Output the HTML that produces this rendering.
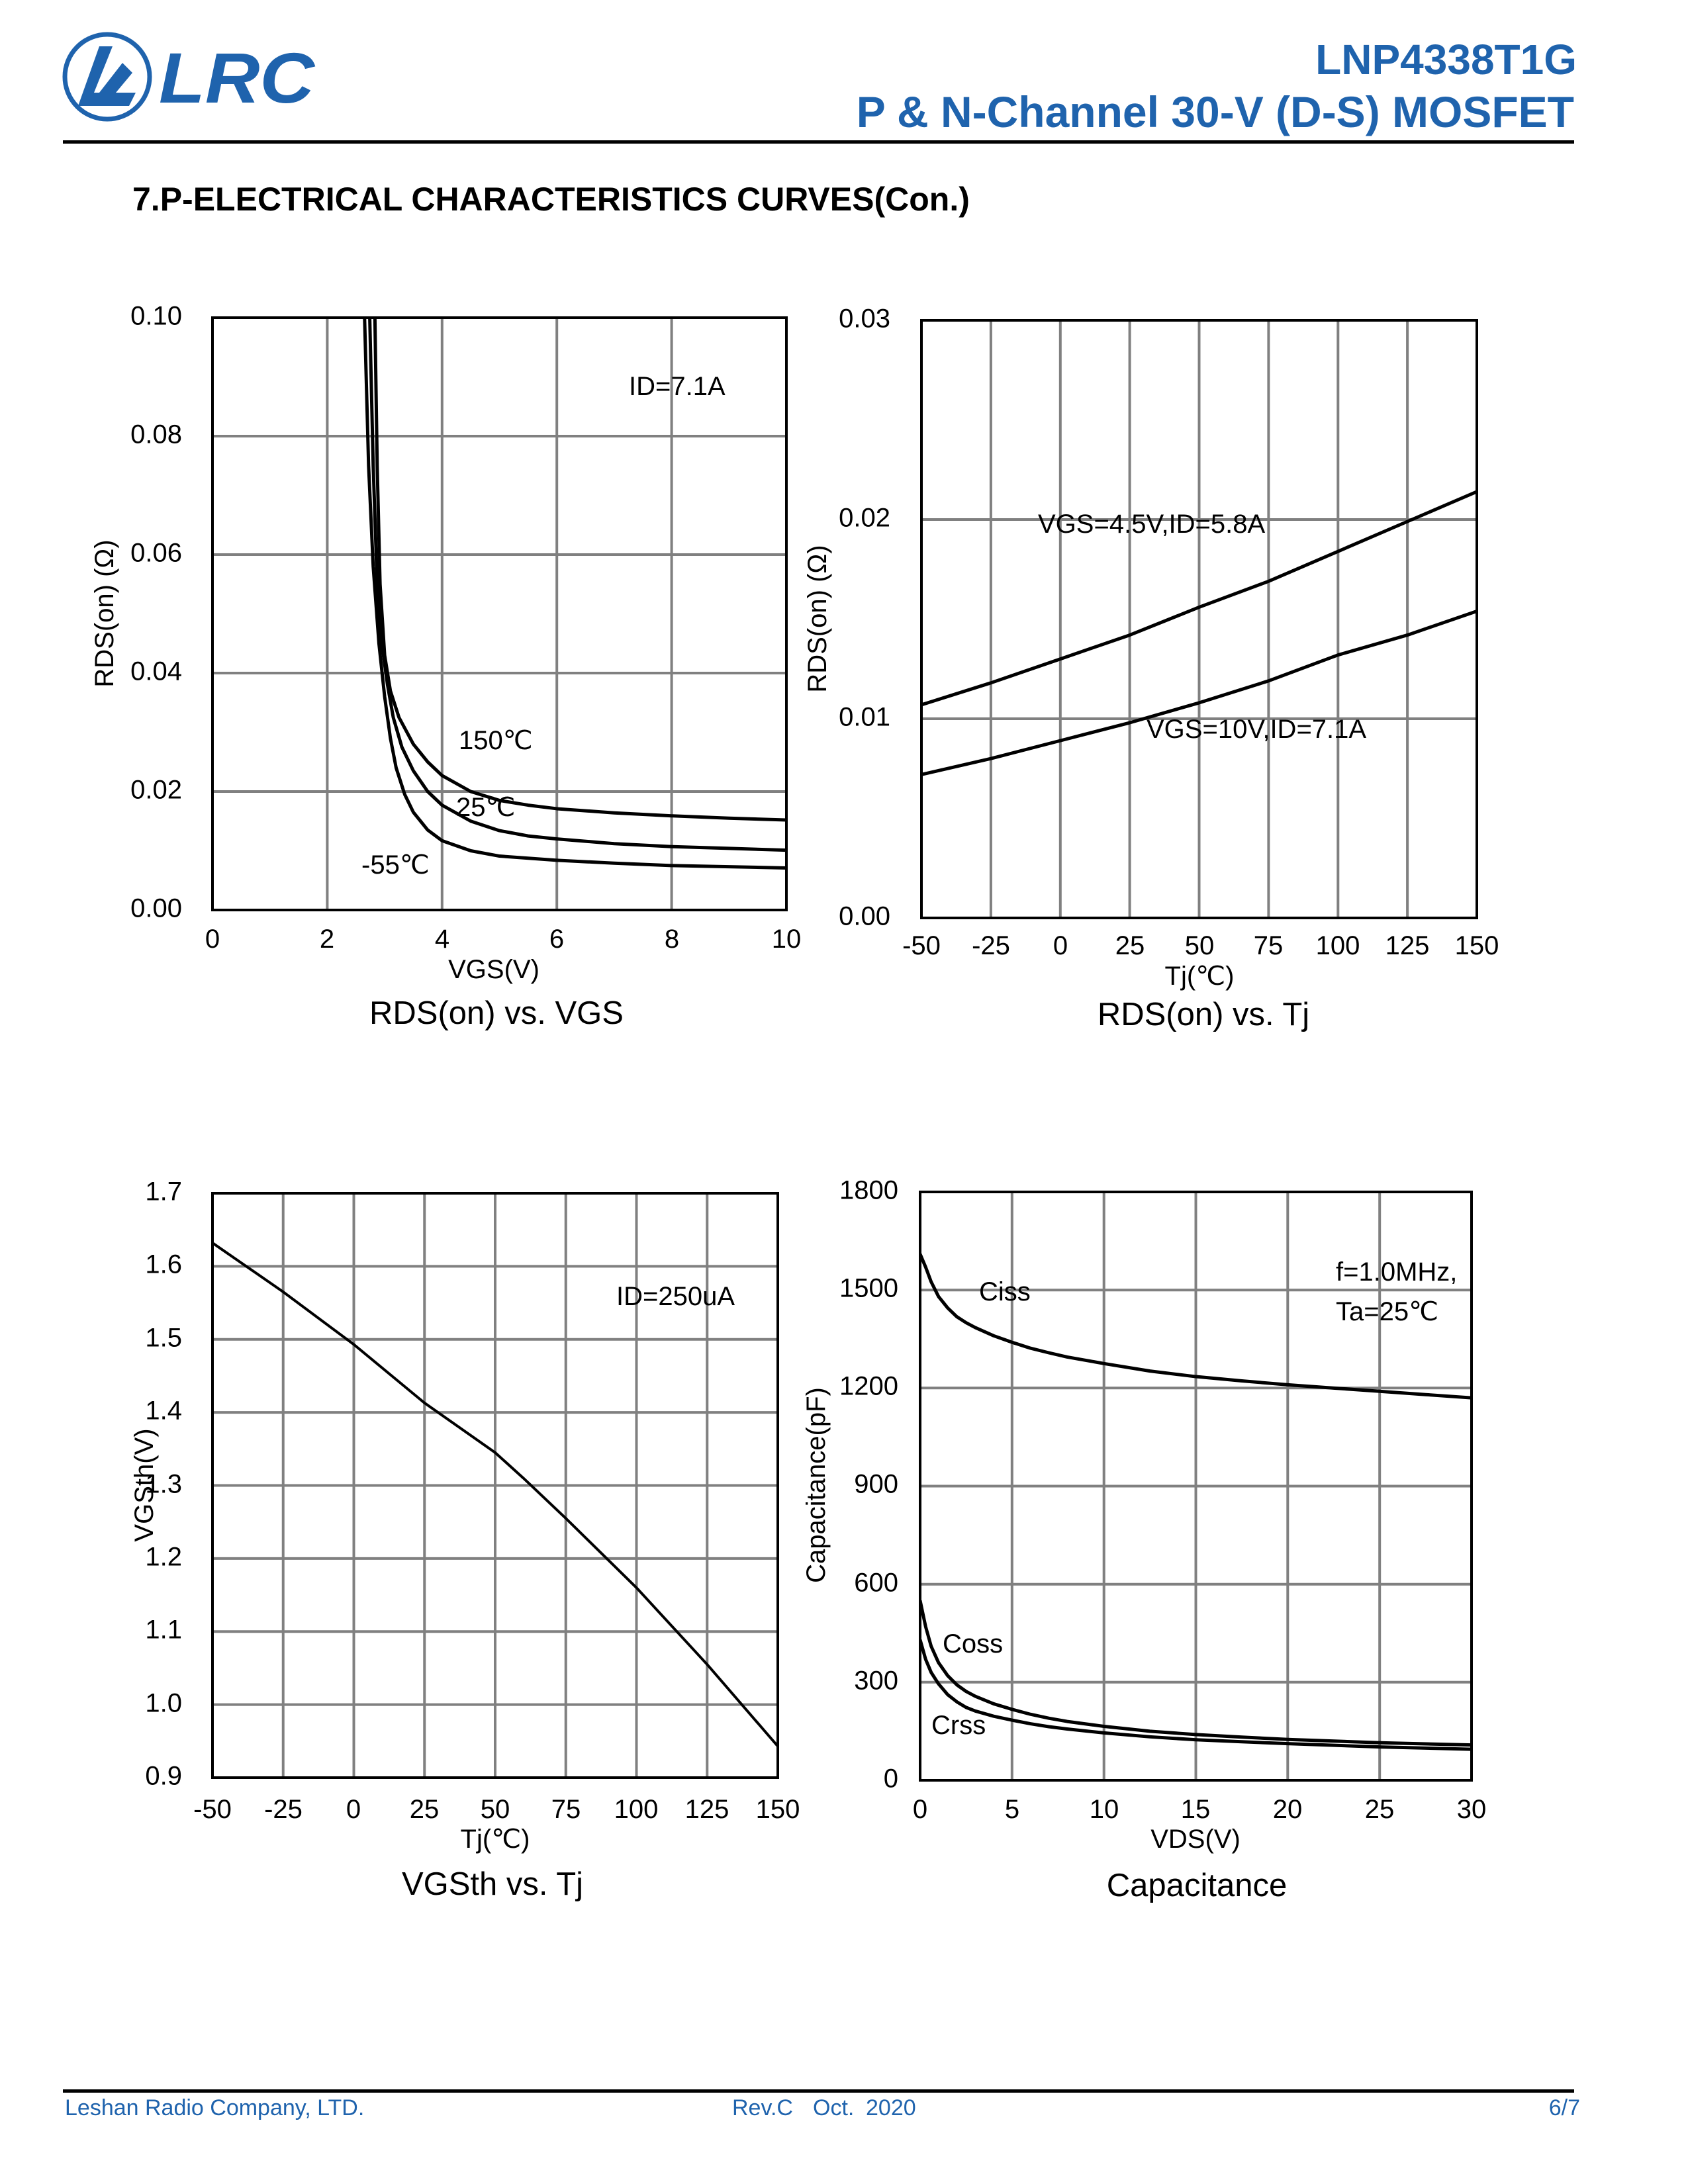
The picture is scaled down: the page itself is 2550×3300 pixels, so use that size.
<!DOCTYPE html>
<html><head><meta charset="utf-8"><style>
html,body{margin:0;padding:0;background:#fff}
svg{display:block}
text{font-family:"Liberation Sans",Arial,sans-serif}
</style></head><body>
<svg width="2550" height="3300" viewBox="0 0 2550 3300" xmlns="http://www.w3.org/2000/svg">
<rect width="2550" height="3300" fill="#fff"/>
<!-- header -->
<circle cx="162" cy="116" r="64" fill="none" stroke="#1f63ad" stroke-width="7"/>
<path d="M118 160 L150 70 L170 70 L142 140 L205 140 L195 160 Z" fill="#1f63ad"/>
<path d="M150 140 L185 95 L200 110 L175 140 Z" fill="#1f63ad"/>
<text x="240" y="155" font-size="108" font-weight="bold" font-style="italic" fill="#1f63ad" textLength="235" lengthAdjust="spacingAndGlyphs">LRC</text>
<text x="2382" y="112" font-size="64" font-weight="bold" fill="#1f63ad" text-anchor="end">LNP4338T1G</text>
<text x="2378" y="192" font-size="66" font-weight="bold" fill="#1f63ad" text-anchor="end">P &amp; N-Channel 30-V (D-S) MOSFET</text>
<rect x="95" y="212" width="2283" height="5" fill="#000"/>
<text x="200" y="318" font-size="50" font-weight="bold" fill="#000">7.P-ELECTRICAL CHARACTERISTICS CURVES(Con.)</text>

<g stroke="#808080" stroke-width="4">
<path d="M494.4 480V1375M667.8 480V1375M841.2 480V1375M1014.6 480V1375M321 659H1188M321 838H1188M321 1017H1188M321 1196H1188"/>
<path d="M1496.9 484V1387M1601.8 484V1387M1706.6 484V1387M1811.5 484V1387M1916.4 484V1387M2021.3 484V1387M2126.1 484V1387M1392 785H2231M1392 1086H2231"/>
<path d="M427.75 1803V2686M534.5 1803V2686M641.25 1803V2686M748 1803V2686M854.75 1803V2686M961.5 1803V2686M1068.25 1803V2686M321 1913.4H1175M321 2023.8H1175M321 2134.1H1175M321 2244.5H1175M321 2354.9H1175M321 2465.3H1175M321 2575.6H1175"/>
<path d="M1528.8 1801V2690M1667.7 1801V2690M1806.5 1801V2690M1945.3 1801V2690M2084.2 1801V2690M1390 1949.2H2223M1390 2097.3H2223M1390 2245.5H2223M1390 2393.7H2223M1390 2541.8H2223"/>
</g>
<g fill="none" stroke="#000" stroke-width="4">
<rect x="321" y="480" width="867" height="895"/>
<rect x="1392" y="484" width="839" height="903"/>
<rect x="321" y="1803" width="854" height="883"/>
<rect x="1390" y="1801" width="833" height="889"/>
</g>

<svg x="321" y="480" width="867" height="895" viewBox="0 0 10 100" preserveAspectRatio="none">
<g fill="none" stroke="#000" stroke-width="5" stroke-linejoin="round">
<polyline vector-effect="non-scaling-stroke" points="2.65,0 2.72,25 2.8,42 2.9,55 3.0,64 3.1,71 3.2,76 3.35,80.5 3.5,83.5 3.75,86.5 4,88.3 4.5,90 5,90.9 6,91.6 7,92.1 8,92.5 9,92.7 10,92.9"/>
<polyline vector-effect="non-scaling-stroke" points="2.74,0 2.8,25 2.87,45 2.95,55 3.05,62 3.15,67.5 3.3,72.5 3.5,76.5 3.75,80 4,82.3 4.5,85 5,86.6 5.5,87.5 6,88 7,88.8 8,89.3 9,89.6 10,89.9"/>
<polyline vector-effect="non-scaling-stroke" points="2.83,0 2.87,25 2.92,45 3.0,57 3.1,63 3.25,67.5 3.5,72 3.75,75 4,77.3 4.5,80 5,81.5 5.5,82.3 6,82.9 7,83.6 8,84.1 9,84.5 10,84.8"/>
</g></svg>
<svg x="1392" y="484" width="839" height="903" viewBox="-50 0 200 30" preserveAspectRatio="none">
<g fill="none" stroke="#000" stroke-width="5" stroke-linejoin="round">
<polyline vector-effect="non-scaling-stroke" points="-50,19.3 -25,18.2 0,17 25,15.8 50,14.4 75,13.1 100,11.6 125,10.1 150,8.6"/>
<polyline vector-effect="non-scaling-stroke" points="-50,22.8 -25,22 0,21.1 25,20.2 50,19.2 75,18.1 100,16.8 125,15.8 150,14.6"/>
</g></svg>
<svg x="321" y="1803" width="854" height="883" viewBox="-50 0 200 80" preserveAspectRatio="none">
<polyline fill="none" stroke="#000" stroke-width="4" vector-effect="non-scaling-stroke" points="-50,6.8 -25,13.5 0,20.7 25,28.7 50,35.5 60,39 75,44.5 100,54 125,64.5 150,75.7"/>
</svg>
<svg x="1390" y="1801" width="833" height="889" viewBox="0 0 30 1800" preserveAspectRatio="none">
<g fill="none" stroke="#000" stroke-width="5" stroke-linejoin="round">
<polyline vector-effect="non-scaling-stroke" points="0,190 0.3,230 0.6,275 1,320 1.5,355 2,382 2.5,400 3,415 4,440 5,460 6,478 7,492 8,505 10,525 12.5,548 15,565 17.5,578 20,590 22.5,600 25,610 27.5,620 30,630"/>
<polyline vector-effect="non-scaling-stroke" points="0,1250 0.3,1330 0.6,1390 1,1440 1.5,1480 2,1508 2.5,1528 3,1543 4,1566 5,1583 6,1598 7,1610 8,1620 10,1635 12.5,1650 15,1660 17.5,1668 20,1675 25,1685 30,1692"/>
<polyline vector-effect="non-scaling-stroke" points="0,1370 0.3,1430 0.6,1470 1,1505 1.5,1538 2,1560 2.5,1577 3,1588 4,1604 5,1616 6,1627 7,1636 8,1643 10,1655 12.5,1667 15,1676 17.5,1682 20,1688 25,1698 30,1705"/>
</g></svg>

<g font-size="40" fill="#000">
<g text-anchor="end" dominant-baseline="middle">
<text x="275" y="480">0.10</text><text x="275" y="659">0.08</text><text x="275" y="838">0.06</text>
<text x="275" y="1017">0.04</text><text x="275" y="1196">0.02</text><text x="275" y="1375">0.00</text>
</g>
<g text-anchor="middle">
<text x="321" y="1432">0</text><text x="494" y="1432">2</text><text x="668" y="1432">4</text>
<text x="841" y="1432">6</text><text x="1015" y="1432">8</text><text x="1188" y="1432">10</text>
<text x="746" y="1478">VGS(V)</text>
<text x="750" y="1547" font-size="49">RDS(on) vs. VGS</text>
</g>
<text transform="translate(171,927) rotate(-90)" text-anchor="middle">RDS(on) (Ω)</text>
<text x="950" y="597">ID=7.1A</text>
<text x="693" y="1132">150℃</text>
<text x="689" y="1233">25℃</text>
<text x="546" y="1320">-55℃</text>

<g text-anchor="end" dominant-baseline="middle">
<text x="1345" y="484">0.03</text><text x="1345" y="785">0.02</text><text x="1345" y="1086">0.01</text><text x="1345" y="1387">0.00</text>
</g>
<g text-anchor="middle">
<text x="1392" y="1442">-50</text><text x="1497" y="1442">-25</text><text x="1602" y="1442">0</text>
<text x="1707" y="1442">25</text><text x="1812" y="1442">50</text><text x="1916" y="1442">75</text>
<text x="2021" y="1442">100</text><text x="2126" y="1442">125</text><text x="2231" y="1442">150</text>
<text x="1812" y="1488">Tj(℃)</text>
<text x="1818" y="1549" font-size="49">RDS(on) vs. Tj</text>
</g>
<text transform="translate(1248,935) rotate(-90)" text-anchor="middle">RDS(on) (Ω)</text>
<text x="1568" y="805">VGS=4.5V,ID=5.8A</text>
<text x="1732" y="1115">VGS=10V,ID=7.1A</text>

<g text-anchor="end" dominant-baseline="middle">
<text x="275" y="1803">1.7</text><text x="275" y="1913">1.6</text><text x="275" y="2024">1.5</text>
<text x="275" y="2134">1.4</text><text x="275" y="2245">1.3</text><text x="275" y="2355">1.2</text>
<text x="275" y="2465">1.1</text><text x="275" y="2576">1.0</text><text x="275" y="2686">0.9</text>
</g>
<g text-anchor="middle">
<text x="321" y="2747">-50</text><text x="428" y="2747">-25</text><text x="534" y="2747">0</text>
<text x="641" y="2747">25</text><text x="748" y="2747">50</text><text x="855" y="2747">75</text>
<text x="961" y="2747">100</text><text x="1068" y="2747">125</text><text x="1175" y="2747">150</text>
<text x="748" y="2792">Tj(℃)</text>
<text x="744" y="2863" font-size="49">VGSth vs. Tj</text>
</g>
<text transform="translate(231,2244) rotate(-90)" text-anchor="middle">VGSth(V)</text>
<text x="931" y="1972">ID=250uA</text>

<g text-anchor="end" dominant-baseline="middle">
<text x="1357" y="1801">1800</text><text x="1357" y="1949">1500</text><text x="1357" y="2097">1200</text>
<text x="1357" y="2245">900</text><text x="1357" y="2394">600</text><text x="1357" y="2542">300</text><text x="1357" y="2690">0</text>
</g>
<g text-anchor="middle">
<text x="1390" y="2747">0</text><text x="1529" y="2747">5</text><text x="1668" y="2747">10</text>
<text x="1806" y="2747">15</text><text x="1945" y="2747">20</text><text x="2084" y="2747">25</text><text x="2223" y="2747">30</text>
<text x="1806" y="2792">VDS(V)</text>
<text x="1808" y="2865" font-size="49">Capacitance</text>
</g>
<text transform="translate(1246,2244) rotate(-90)" text-anchor="middle">Capacitance(pF)</text>
<text x="1479" y="1965">Ciss</text>
<text x="1424" y="2497">Coss</text>
<text x="1407" y="2620">Crss</text>
<text x="2018" y="1935">f=1.0MHz,</text>
<text x="2018" y="1995">Ta=25℃</text>
</g>

<rect x="95" y="3157" width="2283" height="5" fill="#000"/>
<g font-size="34" fill="#1f63ad">
<text x="98" y="3196">Leshan Radio Company, LTD.</text>
<text x="1106" y="3196">Rev.C</text>
<text x="1228" y="3196">Oct.</text>
<text x="1308" y="3196">2020</text>
<text x="2387" y="3196" text-anchor="end">6/7</text>
</g>
</svg>
</body></html>
